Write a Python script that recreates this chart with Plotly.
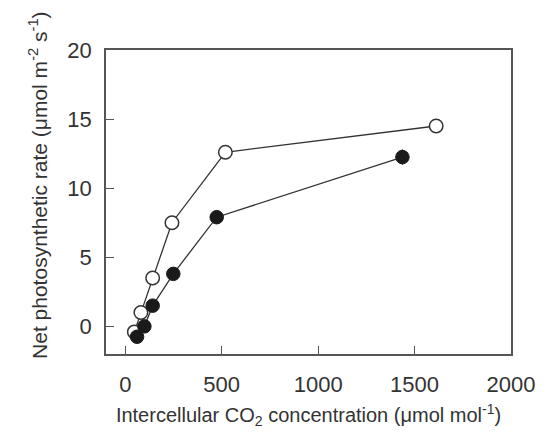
import plotly.graph_objects as go

# Open circles series
open_x = [47, 81, 142, 242, 519, 1612]
open_y = [-0.4, 1.0, 3.5, 7.5, 12.6, 14.5]

# Filled circles series
filled_x = [61, 99, 142, 249, 474, 1437]
filled_y = [-0.75, 0.0, 1.5, 3.8, 7.9, 12.25]
filled_err = [0.2, 0.2, 0.3, 0.3, 0.4, 0.55]

x_ticks = [0, 500, 1000, 1500, 2000]
y_ticks = [0, 5, 10, 15, 20]

line_col = "#333333"
fig = go.Figure()
fig.add_trace(go.Scatter(
    x=open_x, y=open_y, mode="lines+markers",
    line=dict(color=line_col, width=1.3),
    marker=dict(size=13.5, color="white", line=dict(color=line_col, width=1.5)),
    showlegend=False,
))
fig.add_trace(go.Scatter(
    x=filled_x, y=filled_y, mode="lines+markers",
    line=dict(color=line_col, width=1.3),
    marker=dict(size=13.5, color="#1a1a1a", line=dict(color="#1a1a1a", width=1)),
    error_y=dict(type="data", array=filled_err, color="#1a1a1a", thickness=1.3, width=0),
    showlegend=False,
))

axis_common = dict(
    showgrid=False, zeroline=False, showline=True, linecolor="#555555", linewidth=1.5,
    mirror=True, ticks="inside", ticklen=8, tickwidth=1.3, tickcolor="#555555",
    automargin=False,
    tickfont=dict(family="Liberation Sans, Arial, sans-serif", size=22, color="#333333"),
)

fig.update_layout(
    width=555, height=434,
    margin=dict(l=106, r=44, t=50, b=80),
    paper_bgcolor="white", plot_bgcolor="white",
    font=dict(family="Liberation Sans, Arial, sans-serif", color="#333333"),
    xaxis=dict(
        range=[-100, 2000], tickvals=x_ticks, ticklabelstandoff=10,
        title=dict(text="Intercellular CO<sub>2</sub> concentration (μmol mol<sup>-1</sup>)",
                   font=dict(size=20), standoff=12),
        **axis_common,
    ),
    yaxis=dict(
        range=[-2, 20], tickvals=y_ticks, ticklabelstandoff=8,
        **axis_common,
    ),
    annotations=[dict(
        text="Net photosynthetic rate (μmol m<sup>-2</sup> s<sup>-1</sup>)",
        xref="paper", yref="paper", x=-0.168, y=0.556,
        xanchor="center", yanchor="middle", textangle=-90, showarrow=False,
        font=dict(size=21, color="#333333", family="Liberation Sans, Arial, sans-serif"),
    )],
)

fig.write_html("out.html", config={"displayModeBar": False},
               post_script="document.body.style.margin='0px';")
